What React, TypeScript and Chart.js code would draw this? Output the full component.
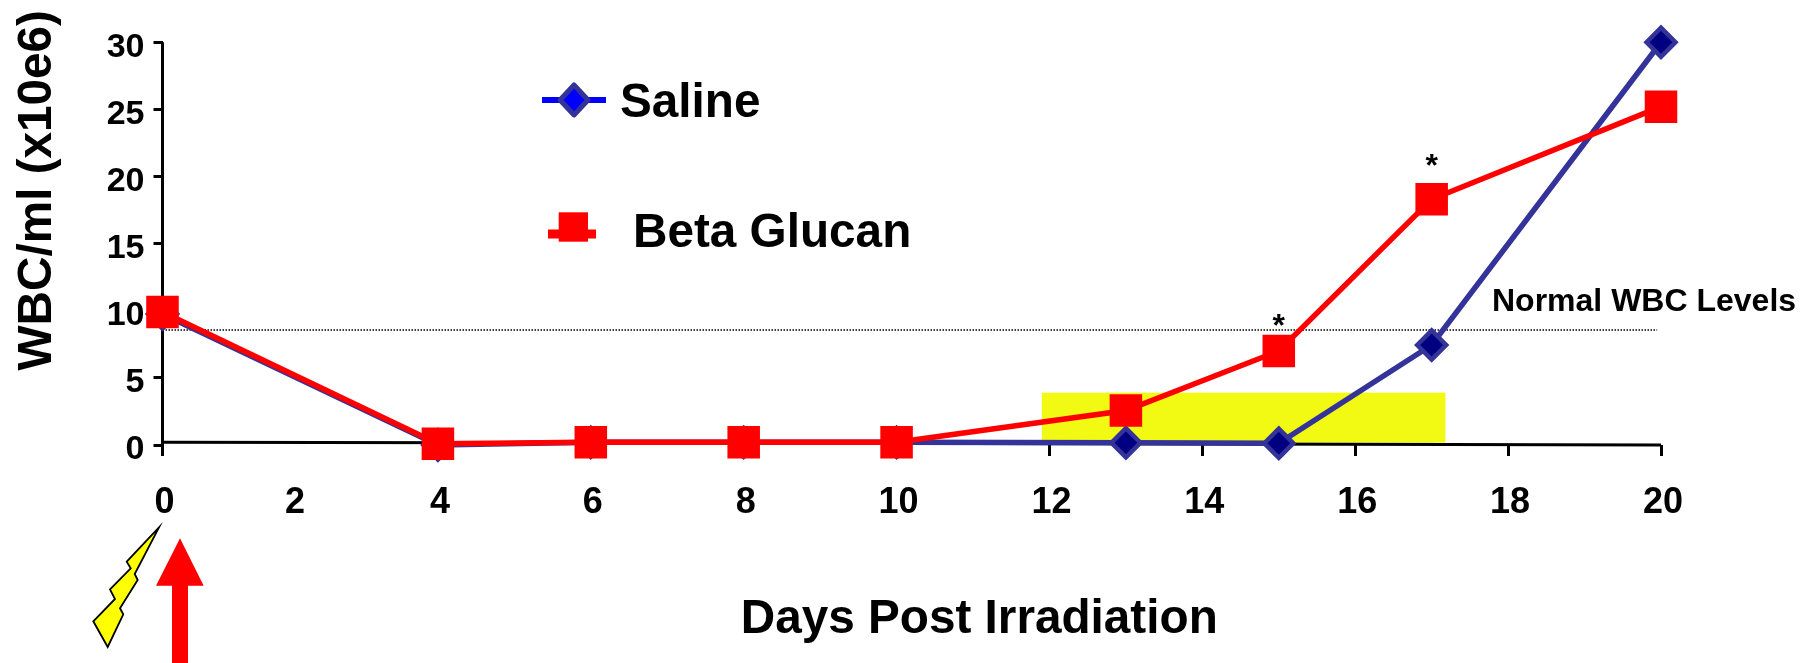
import React, { useEffect, useRef } from "react";
import { Chart, registerables, LinearScale } from "chart.js";

Chart.register(...registerables);

// ---- data ----
const salineDays = [0, 4, 6, 8, 10, 13, 15, 17, 20];
const salineValues = [9.75, 0.0, 0.2, 0.2, 0.2, 0.17, 0.13, 7.45, 30];
const glucanDays = [0, 4, 6, 8, 10, 13, 15, 17, 20];
const glucanValues = [9.9, 0.1, 0.2, 0.2, 0.2, 2.57, 7.0, 18.3, 25.2];
const normalDays = [0, 19.95];
const normalValues = [8.57, 8.57];
const baselineDays = [0, 13, 20];
const baselineValues = [0.2, 0.1, 0];
const yAxisDays = [0, 0];
const yAxisValues = [0, 30];
const xTicks = [0, 2, 4, 6, 8, 10, 12, 14, 16, 18, 20];
const xTicksHidden = [2, 4, 6, 8, 10];
const yTicks = [0, 5, 10, 15, 20, 25, 30];
const starDays = [15, 17];
const starValues = [8.8, 20.7];
const treatmentDays = [11.9, 17.18];
const treatmentValues = [0.17, 3.9];
const axisKnotDays = [0, 2, 4, 20];
const axisKnotFractions = [0, 0.0871, 0.1838, 1];

const FONT = '"Liberation Sans", Arial, sans-serif';

class DayScale extends LinearScale {
  static id = "dayScale";
  static defaults = LinearScale.defaults;
  getPixelForValue(value: number) {
    let f = axisKnotFractions[axisKnotFractions.length - 1];
    for (let i = 1; i < axisKnotDays.length; i++) {
      if (value <= axisKnotDays[i]) {
        const t = (value - axisKnotDays[i - 1]) / (axisKnotDays[i] - axisKnotDays[i - 1]);
        f = axisKnotFractions[i - 1] + t * (axisKnotFractions[i] - axisKnotFractions[i - 1]);
        break;
      }
    }
    return this.getPixelForDecimal(f);
  }
  drawTitle() {
    const ctx = this.ctx;
    ctx.save();
    ctx.translate(67.5, 2);
    super.drawTitle();
    ctx.restore();
  }
}
Chart.register(DayScale);

const pts = (xs: number[], ys: number[]) => xs.map((x, i) => ({ x, y: ys[i] }));

const decorations = {
  id: "decorations",
  beforeDatasetsDraw(chart: any) {
    const { ctx, scales } = chart;
    const x0 = scales.x.getPixelForValue(treatmentDays[0]);
    const x1 = scales.x.getPixelForValue(treatmentDays[1]);
    const y0 = scales.y.getPixelForValue(treatmentValues[1]);
    const y1 = scales.y.getPixelForValue(treatmentValues[0]);
    ctx.save();
    ctx.fillStyle = "#F2F912";
    ctx.fillRect(x0, y0, x1 - x0, y1 - y0);
    ctx.restore();
  },
  afterDraw(chart: any) {
    const { ctx, scales } = chart;
    ctx.save();
    ctx.fillStyle = "#000";
    ctx.textBaseline = "middle";

    // asterisks
    ctx.textAlign = "center";
    ctx.font = `bold 32px ${FONT}`;
    starDays.forEach((d, i) => {
      ctx.fillText("*", scales.x.getPixelForValue(d), scales.y.getPixelForValue(starValues[i]));
    });

    // normal level label
    ctx.textAlign = "left";
    ctx.font = `bold 32px ${FONT}`;
    ctx.fillText("Normal WBC Levels", 1492, 302);

    // legend
    ctx.font = `bold 47.7px ${FONT}`;
    ctx.fillText("Saline", 620, 104);
    ctx.fillText("Beta Glucan", 633, 234);

    ctx.fillStyle = "#0000FF";
    ctx.fillRect(542, 97, 64, 6);
    ctx.beginPath();
    ctx.moveTo(574, 85);
    ctx.lineTo(588, 100);
    ctx.lineTo(574, 115);
    ctx.lineTo(560, 100);
    ctx.closePath();
    ctx.fill();
    ctx.strokeStyle = "#333399";
    ctx.lineWidth = 5;
    ctx.lineJoin = "round";
    ctx.stroke();

    ctx.fillStyle = "#FF0000";
    ctx.fillRect(548, 229.5, 48, 9);
    ctx.fillRect(558.7, 212.3, 29.3, 29.4);

    // lightning bolt
    const bolt = [
      [159, 527.3], [126.7, 561.7], [130.7, 568.3], [110, 589.3], [115, 599], [93.3, 621.3],
      [107.7, 647], [123.3, 614.3], [120, 608.3], [137.7, 580], [134.7, 574],
    ];
    ctx.beginPath();
    bolt.forEach(([x, y], i) => (i ? ctx.lineTo(x, y) : ctx.moveTo(x, y)));
    ctx.closePath();
    ctx.fillStyle = "#FFFF00";
    ctx.fill();
    ctx.strokeStyle = "#000";
    ctx.lineWidth = 1.8;
    ctx.lineJoin = "miter";
    ctx.stroke();

    // treatment arrow
    const arrow = [
      [180, 538.3], [203.7, 585.7], [188, 585.7], [188, 663], [172, 663], [172, 585.7], [156, 585.7],
    ];
    ctx.beginPath();
    arrow.forEach(([x, y], i) => (i ? ctx.lineTo(x, y) : ctx.moveTo(x, y)));
    ctx.closePath();
    ctx.fillStyle = "#FF0000";
    ctx.fill();
    ctx.restore();
  },
};

export default function App() {
  const ref = useRef<HTMLCanvasElement>(null);
  useEffect(() => {
    const chart = new Chart(ref.current!, {
      type: "line",
      data: {
        datasets: [
          {
            label: "Beta Glucan",
            data: pts(glucanDays, glucanValues),
            borderColor: "#FF0000",
            backgroundColor: "#FF0000",
            borderWidth: 5.5,
            pointStyle: "rect",
            pointRadius: 23,
            pointBorderWidth: 0,
            clip: false,
            order: 1,
          },
          {
            label: "Saline",
            data: pts(salineDays, salineValues),
            borderColor: "#333399",
            backgroundColor: "#000080",
            borderWidth: 5.5,
            pointStyle: "rectRot",
            pointRadius: 14.5,
            pointBorderWidth: 4.5,
            pointBorderColor: "#333399",
            clip: false,
            order: 2,
          },
          {
            label: "Normal WBC Levels",
            data: pts(normalDays, normalValues),
            borderColor: "#000",
            borderWidth: 1.5,
            borderDash: [1.5, 1.5],
            pointRadius: 0,
            order: 3,
          },
          {
            label: "x axis line",
            data: pts(baselineDays, baselineValues),
            borderColor: "#000",
            borderWidth: 3,
            pointRadius: 0,
            clip: false,
            order: 4,
          },
          {
            label: "y axis line",
            data: pts(yAxisDays, yAxisValues),
            borderColor: "#000",
            borderWidth: 3,
            pointRadius: 0,
            clip: false,
            order: 5,
          },
        ],
      },
      options: {
        responsive: false,
        animation: false,
        layout: { autoPadding: false, padding: { top: 10, right: 157, left: 0, bottom: 0 } },
        plugins: { legend: { display: false }, title: { display: false }, tooltip: { enabled: false } },
        scales: {
          x: {
            type: "dayScale",
            position: "bottom",
            min: 0,
            max: 20,
            afterFit: (s: any) => { s.height = 218; s.paddingLeft = 0; s.paddingRight = 0; },
            afterBuildTicks: (s: any) => { s.ticks = xTicks.map((value) => ({ value })); },
            border: { display: false },
            grid: {
              drawOnChartArea: false,
              drawTicks: true,
              tickLength: 11,
              tickWidth: 3,
              tickColor: (c: any) => (xTicksHidden.includes(c.tick?.value) ? "rgba(0,0,0,0)" : "#000"),
            },
            ticks: {
              autoSkip: false,
              maxRotation: 0,
              padding: 25,
              labelOffset: 2,
              color: "#000",
              font: { family: FONT, weight: "bold", size: 36 },
            },
            title: {
              display: true,
              text: "Days Post Irradiation",
              color: "#000",
              font: { family: FONT, weight: "bold", size: 47.7 },
              padding: { top: 17, bottom: 17 },
            },
          },
          y: {
            type: "linear",
            position: "left",
            min: 0,
            max: 32.4,
            afterFit: (s: any) => { s.width = 162.5; s.paddingTop = 0; s.paddingBottom = 0; },
            afterBuildTicks: (s: any) => { s.ticks = yTicks.map((value) => ({ value })); },
            border: { display: false },
            grid: { drawOnChartArea: false, tickLength: 9, tickWidth: 3, tickColor: "#000" },
            ticks: {
              padding: 9,
              labelOffset: 5,
              color: "#000",
              font: { family: FONT, weight: "bold", size: 34 },
            },
            title: {
              display: true,
              text: "WBC/ml (x10e6)",
              align: "end",
              color: "#000",
              font: { family: FONT, weight: "bold", size: 47.7 },
              padding: { top: 9, bottom: 9 },
            },
          },
        },
      } as any,
      plugins: [decorations],
    });
    return () => chart.destroy();
  }, []);
  return (
    <div style={{ position: "absolute", left: 0, top: 0, width: 1818, height: 663, overflow: "hidden", background: "#fff" }}>
      <canvas ref={ref} width={1818} height={663} style={{ display: "block" }} />
    </div>
  );
}
